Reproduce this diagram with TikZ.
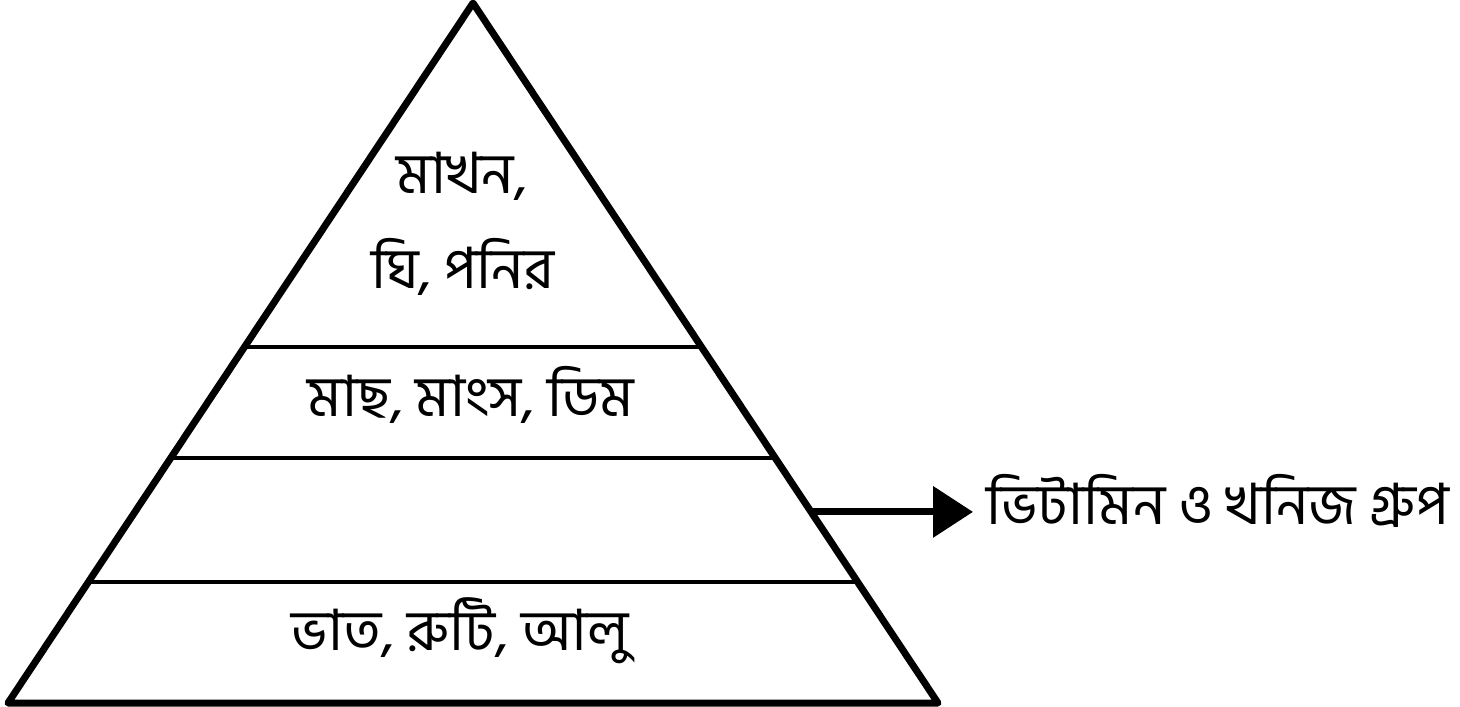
\documentclass[tikz,border=0pt]{standalone}
\usepackage{fontspec}
\newfontfamily\bn[Script=Bengali]{Hind Siliguri}
\usetikzlibrary{arrows.meta,calc}

\begin{document}
\begin{tikzpicture}[x=1pt,y=-1pt,
  food/.style={font=\bn\fontsize{57}{66}\selectfont, inner sep=0pt, anchor=base}]
  \useasboundingbox (0,0) rectangle (1460,707);
  % pyramid
  \coordinate (A) at (473,3);
  \coordinate (L) at (8,703);
  \coordinate (R) at (938,703);
  \draw[line width=7pt, line join=round]
    (A) -- (L) -- (R) -- cycle
  ;
  \draw[line width=4pt]
    ($(A)!0.491!(L)$) -- ($(A)!0.491!(R)$)
    ($(A)!0.65!(L)$) -- ($(A)!0.65!(R)$)
    ($(A)!0.827!(L)$) -- ($(A)!0.827!(R)$)
  ;
  % layers
  \node[food] (fat1) at (462,193) {মাখন,};
  \node[food] (fat2) at (463,288) {ঘি, পনির};
  \node[food] (meat) at (471,416) {মাছ, মাংস, ডিম};
  \node[food] (rice) at (460,650) {ভাত, রুটি, আলু};
  % vitamin layer
  \node[food, anchor=base west] (vit) at (986,524) {ভিটামিন ও খনিজ গ্রুপ};
  \coordinate (E) at ($(A)!0.727!(R)$);
  \draw[line width=7pt, -{Triangle[length=40pt,width=50pt]}, shorten >=13pt]
    (E) -- (E -| vit.west)
  ;
\end{tikzpicture}
\end{document}
